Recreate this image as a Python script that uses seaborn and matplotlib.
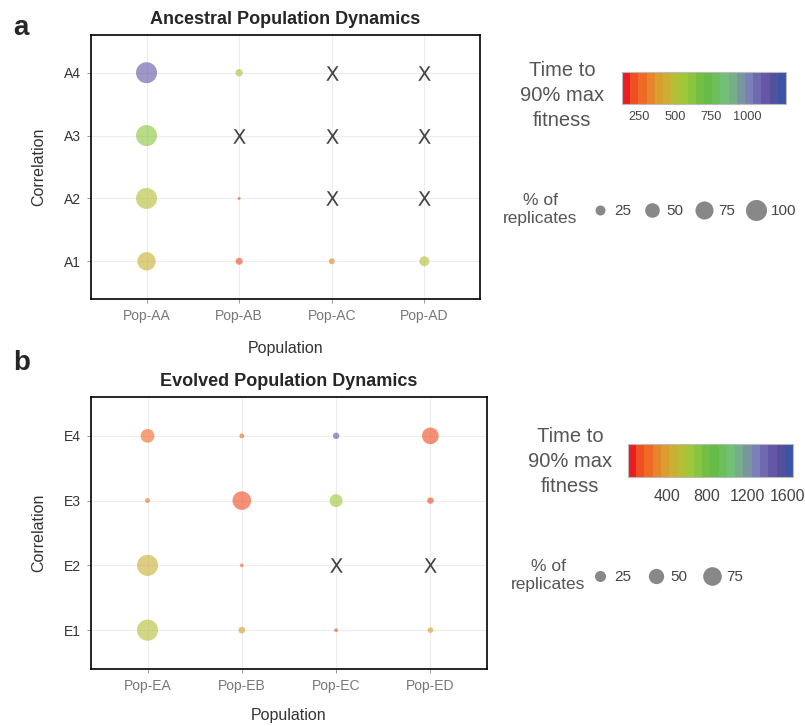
import numpy as np
import pandas as pd
import matplotlib
matplotlib.use("Agg")
import matplotlib.pyplot as plt
from matplotlib.colors import ListedColormap, Normalize
from matplotlib.cm import ScalarMappable
from matplotlib.lines import Line2D
import seaborn as sns

# ---- data ----
anc_pops = ["Pop-AA", "Pop-AB", "Pop-AC", "Pop-AD"]
anc_corr = ["A1", "A2", "A3", "A4"]
# one row per population, columns A1..A4; nan = not reached (drawn as X)
anc_pct = [[77, 100, 100, 100],
           [14, 5, np.nan, 15],
           [11, np.nan, np.nan, np.nan],
           [25, np.nan, np.nan, np.nan]]
anc_time = [[430, 480, 600, 1110],
            [240, 230, np.nan, 560],
            [330, np.nan, np.nan, np.nan],
            [500, np.nan, np.nan, np.nan]]
anc_time_lim = (130, 1270)
anc_time_ticks = [250, 500, 750, 1000]
anc_size_breaks = [25, 50, 75, 100]

evo_pops = ["Pop-EA", "Pop-EB", "Pop-EC", "Pop-ED"]
evo_corr = ["E1", "E2", "E3", "E4"]
evo_pct = [[97, 97, 3, 40],
           [8, 1, 75, 3],
           [1, np.nan, 35, 7],
           [5, np.nan, 7, 60]]
evo_time = [[560, 430, 180, 180],
            [380, 250, 170, 200],
            [150, np.nan, 600, 1450],
            [350, np.nan, 170, 170]]
evo_time_lim = (10, 1660)
evo_time_ticks = [400, 800, 1200, 1600]
evo_size_breaks = [25, 50, 75]

band_colors = ["#EC1C24", "#F04E23", "#F06A25", "#E5862C", "#D99E2F",
               "#C9B034", "#B5BE36", "#A0C73A", "#8BC53F", "#74BF43",
               "#66BC46", "#6BBF5C", "#72BF78", "#76AE8C", "#7996A0",
               "#7B80B8", "#7069AF", "#6357A6", "#53509E", "#3A55A4"]
cmap = ListedColormap(band_colors)

sns.set_theme(style="white")
plt.rcParams['font.family'] = ['Liberation Sans', 'DejaVu Sans']


def long_frame(pops, corr, pct, time):
    rows = []
    for p, pc, tm in zip(pops, pct, time):
        for c, v, t in zip(corr, pc, tm):
            rows.append((p, c, v, t))
    df = pd.DataFrame(rows, columns=["Population", "Correlation", "pct", "time"])
    df["Population"] = pd.Categorical(df["Population"], categories=pops)
    df["Correlation"] = pd.Categorical(df["Correlation"], categories=corr)
    return df


def size_of(v, size_norm, sizes):
    lo, hi = size_norm
    return sizes[0] + (v - lo) / (hi - lo) * (sizes[1] - sizes[0])


def draw_panel(ax, df, title, tlim, size_norm, sizes, xpad):
    hit = df.dropna()
    miss = df[df["pct"].isna()]
    sns.scatterplot(data=hit, x="Population", y="Correlation", hue="time", size="pct",
                    palette=cmap, hue_norm=tlim, sizes=sizes, size_norm=size_norm,
                    alpha=0.62, linewidth=0, legend=False, ax=ax, zorder=3)
    sns.scatterplot(data=miss, x="Population", y="Correlation", marker=r"$\mathrm{X}$",
                    color="#444444", s=110, linewidth=0, legend=False, ax=ax, zorder=3)
    ax.set_xlim(-0.6, 3.6)
    ax.set_ylim(-0.6, 3.6)
    ax.grid(True, color="#EDEDED", lw=0.8)
    ax.set_axisbelow(True)
    for sp in ax.spines.values():
        sp.set_visible(True)
        sp.set_color("black")
        sp.set_linewidth(1.2)
    ax.tick_params(axis="both", length=3, width=0.6, color="#888888", labelsize=10,
                   pad=4, bottom=True, left=True)
    ax.tick_params(axis="x", labelcolor="#777777")
    ax.tick_params(axis="y", labelcolor="#333333")
    ax.set_xlabel("Population", fontsize=11.5, color="#333333", labelpad=xpad)
    ax.set_ylabel("Correlation", fontsize=11.5, color="#333333", labelpad=13)
    ax.set_title(title, fontsize=13, fontweight="bold", pad=8)


def draw_colorbar(fig, rect, tlim, ticks, labelsize, pad):
    cax = fig.add_axes(rect)
    sm = ScalarMappable(norm=Normalize(*tlim), cmap=cmap)
    cb = fig.colorbar(sm, cax=cax, orientation="horizontal", ticks=ticks)
    cb.outline.set_edgecolor("#BBBBBB")
    cb.outline.set_linewidth(0.8)
    cax.tick_params(axis="x", direction="in", length=4, width=1, color="white",
                    top=True, bottom=True, labelsize=labelsize, labelcolor="#444444",
                    pad=pad)


def draw_size_legend(fig, breaks, size_norm, sizes, anchor, spacing):
    handles = [Line2D([], [], marker="o", ls="", color="#888888", markeredgewidth=0,
                      markersize=np.sqrt(size_of(b, size_norm, sizes)), label=str(b))
               for b in breaks]
    fig.legend(handles=handles, ncol=len(breaks), loc="center left",
               bbox_to_anchor=anchor, frameon=False, fontsize=11,
               handlelength=1.5, handletextpad=0.2, columnspacing=spacing,
               borderpad=0, borderaxespad=0, labelcolor="#444444")


fig = plt.figure(figsize=(8.05, 7.26), dpi=100)

anc_df = long_frame(anc_pops, anc_corr, anc_pct, anc_time)
evo_df = long_frame(evo_pops, evo_corr, evo_pct, evo_time)
anc_sn, anc_sz = (5, 100), (4.7, 229)
evo_sn, evo_sz = (0, 100), (5.2, 238)

ax_a = fig.add_axes([0.1130, 0.5882, 0.4832, 0.3636])
draw_panel(ax_a, anc_df, "Ancestral Population Dynamics", anc_time_lim, anc_sn, anc_sz, 13)
ax_b = fig.add_axes([0.1130, 0.0785, 0.4919, 0.3747])
draw_panel(ax_b, evo_df, "Evolved Population Dynamics", evo_time_lim, evo_sn, evo_sz, 11)

fig.text(0.016, 0.962, "a", fontsize=20, fontweight="bold", va="center", ha="left")
fig.text(0.016, 0.500, "b", fontsize=20, fontweight="bold", va="center", ha="left")

# colour keys
draw_colorbar(fig, [0.7727, 0.8567, 0.2037, 0.0441], anc_time_lim, anc_time_ticks, 9.2, 5)
draw_colorbar(fig, [0.7801, 0.3430, 0.2050, 0.0455], evo_time_lim, evo_time_ticks, 11.5, 9)
fig.text(0.698, 0.868, "Time to\n90% max\nfitness", fontsize=14.5, color="#555555",
         ha="center", va="center", linespacing=1.4)
fig.text(0.708, 0.365, "Time to\n90% max\nfitness", fontsize=14.5, color="#555555",
         ha="center", va="center", linespacing=1.4)

# size keys
fig.text(0.671, 0.711, "% of\nreplicates", fontsize=12.5, color="#555555",
         ha="center", va="center", linespacing=1.25)
fig.text(0.681, 0.207, "% of\nreplicates", fontsize=12.5, color="#555555",
         ha="center", va="center", linespacing=1.25)
draw_size_legend(fig, anc_size_breaks, anc_sn, anc_sz, (0.731, 0.709), 0.6)
draw_size_legend(fig, evo_size_breaks, evo_sn, evo_sz, (0.731, 0.205), 0.85)

fig.savefig("out.png", dpi=100)
